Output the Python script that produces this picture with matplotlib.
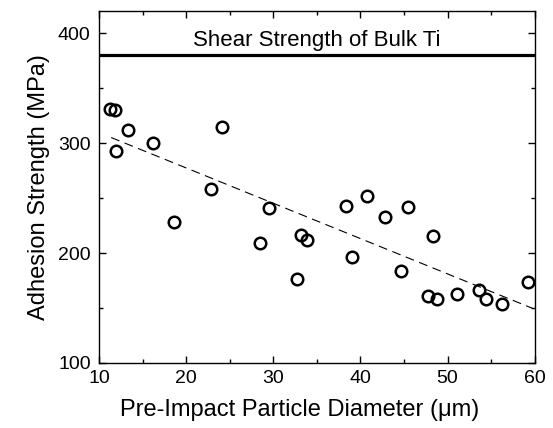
import matplotlib
matplotlib.use("Agg")
import matplotlib.pyplot as plt
from matplotlib.ticker import MultipleLocator

plt.rcParams['font.family'] = ['Liberation Sans', 'DejaVu Sans']

# Datos
diameter = [11.3, 11.8, 12.0, 13.3, 16.2, 18.6, 22.9, 24.1, 28.5, 29.5,
            32.7, 33.2, 33.9, 38.3, 39.0, 40.8, 42.8, 44.7, 45.4, 47.7,
            48.3, 48.8, 51.1, 53.6, 54.4, 56.2, 59.2]
strength = [330.6, 329.7, 292.7, 311.5, 300.3, 227.9, 258.0, 314.5, 208.8, 240.9,
            176.4, 216.0, 212.0, 243.0, 196.7, 251.5, 232.5, 183.6, 241.8, 160.9,
            215.5, 158.2, 162.5, 166.0, 158.2, 154.0, 173.4]

# Recta de ajuste
fit_x = [11.4, 59.8]
fit_y = [305.0, 149.5]

bulk_shear = 380
bulk_label = 'Shear Strength of Bulk Ti'

fig = plt.figure(figsize=(5.53, 4.28), dpi=100)
ax = fig.add_axes([0.179, 0.152, 0.788, 0.822])

ax.axhline(bulk_shear, color='black', lw=2.3)
ax.text(35, 393, bulk_label, ha='center', va='center', fontsize=16)
ax.plot(fit_x, fit_y, ls=(0, (8, 5)), color='black', lw=0.8)
ax.plot(diameter, strength, 'o', mfc='none', mec='black', ms=8.3, mew=1.8)

ax.set_xlim(10, 60)
ax.set_ylim(100, 420)
ax.xaxis.set_major_locator(MultipleLocator(10))
ax.xaxis.set_minor_locator(MultipleLocator(5))
ax.yaxis.set_major_locator(MultipleLocator(100))
ax.yaxis.set_minor_locator(MultipleLocator(50))
ax.tick_params(which='both', direction='in', top=True, right=True, labelsize=14, width=1)
ax.tick_params(which='major', length=5)
ax.tick_params(axis='x', pad=5)
ax.tick_params(axis='y', pad=6)
ax.tick_params(which='minor', length=3)
for s in ax.spines.values():
    s.set_linewidth(1)

ax.set_xlabel('Pre-Impact Particle Diameter (μm)', fontsize=17)
ax.xaxis.set_label_coords(0.461, -0.103)
ax.set_ylabel('Adhesion Strength (MPa)', fontsize=17, labelpad=6)

fig.savefig('out.png', dpi=100)
